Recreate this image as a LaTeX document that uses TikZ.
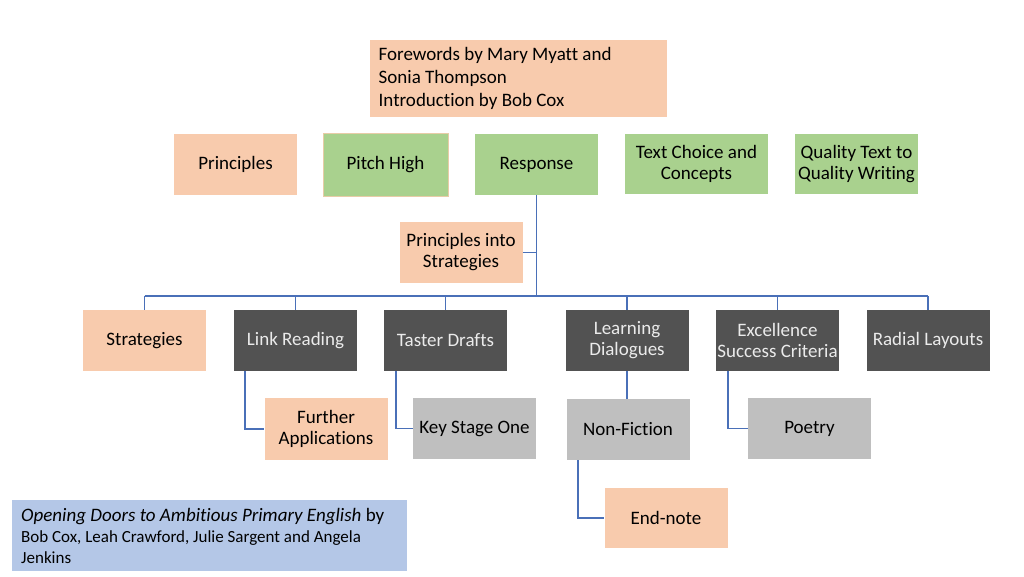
\documentclass[tikz,border=0pt]{standalone}
\usepackage{fontspec}
\setmainfont{Carlito}[Ligatures=NoCommon]
\definecolor{peach}{HTML}{F8CBAD}
\definecolor{grn}{HTML}{A9D18E}
\definecolor{dark}{HTML}{525252}
\definecolor{lgray}{HTML}{BFBFBF}
\definecolor{lblue}{HTML}{B4C7E7}
\definecolor{line}{HTML}{4A70B8}
\begin{document}
\begin{tikzpicture}[x=1pt,y=-1pt,
  box/.style={rectangle,inner sep=0pt,minimum width=123pt,minimum height=61pt,align=center,font=\fontsize{19}{21}\selectfont},
  peachbox/.style={box,fill=peach},
  greenbox/.style={box,fill=grn},
  darkbox/.style={box,fill=dark,text=white!92!black},
  graybox/.style={box,fill=lgray},
  conn/.style={draw=line,line width=1.1pt}]
\useasboundingbox (0,0) rectangle (1024,576);
\fill[white] (0,0) rectangle (1024,576);

% top
\node[peachbox,minimum width=297pt,minimum height=77pt,align=left,anchor=north west,font=\fontsize{19}{23}\selectfont] (fore) at (370,40)
  {\hspace*{7pt}\raisebox{-2pt}{\parbox[c]{287pt}{Forewords by Mary Myatt and\\Sonia Thompson\\Introduction by Bob Cox}}};

\node[peachbox] (princ) at (235.5,164.5) {Principles};
\node[greenbox,draw=peach!80!grn,line width=0.6pt,minimum width=125pt,minimum height=63pt] (pitch) at (385.5,164.5) {Pitch High};
\node[greenbox] (resp) at (536.5,164.5) {Response};
\node[greenbox,minimum width=143pt,minimum height=60pt] (tcc) at (696.5,164) {Text Choice and\\Concepts};
\node[greenbox,minimum height=60pt] (qtq) at (856.5,164) {Quality Text to\\Quality Writing};

\node[peachbox] (pis) at (461,252.5) {Principles into\\Strategies};

% second row
\node[peachbox] (strat) at (144.5,340.5) {Strategies};
\node[darkbox] (link) at (295.5,340.5) {Link Reading};
\node[darkbox] (taster) at (445.5,340.5) {Taster Drafts};
\node[darkbox] (learn) at (627,340.5) {Learning\\Dialogues};
\node[darkbox] (excel) at (777.5,340.5) {Excellence\\Success Criteria};
\node[darkbox] (radial) at (928,340.5) {Radial Layouts};

% third row
\node[peachbox,minimum height=62pt] (further) at (326,429) {Further\\Applications};
\node[graybox] (ks1) at (474.5,428.5) {Key Stage One};
\node[graybox] (nonfic) at (628,429.5) {Non-Fiction};
\node[graybox] (poetry) at (809.5,428.5) {Poetry};
\node[peachbox,minimum height=60pt] (endnote) at (666,518) {End-note};

% bottom-left note
\node[rectangle,fill=lblue,inner sep=0pt,minimum width=395pt,minimum height=71pt,anchor=north west] (book) at (12,500)
  {\hspace*{7pt}\parbox[c]{384pt}{\fontsize{19}{21}\selectfont\itshape Opening Doors to Ambitious Primary English\upshape{} by\\
  \fontsize{17}{21}\selectfont Bob Cox, Leah Crawford, Julie Sargent and Angela\\Jenkins}};

% connectors
\coordinate (busy) at (0,296);
\draw[conn] (resp.south) -- (resp.south |- busy);
\draw[conn] (pis.east) -- (pis.east -| resp.south);
\draw[conn] (strat.north |- busy) -- (radial.north |- busy);
\foreach \n in {strat,link,taster,learn,excel,radial}
  \draw[conn] (\n.north) -- (\n.north |- busy);
\draw[conn] ([xshift=-50.5pt]link.south) |- (further.west);
\draw[conn] ([xshift=-49.5pt]taster.south) |- (ks1.west);
\draw[conn] (learn.south) -- (learn.south |- nonfic.north);
\draw[conn] ([xshift=-49.5pt]excel.south) |- (poetry.west);
\draw[conn] ([xshift=-50pt]nonfic.south) |- (endnote.west);
\end{tikzpicture}
\end{document}
